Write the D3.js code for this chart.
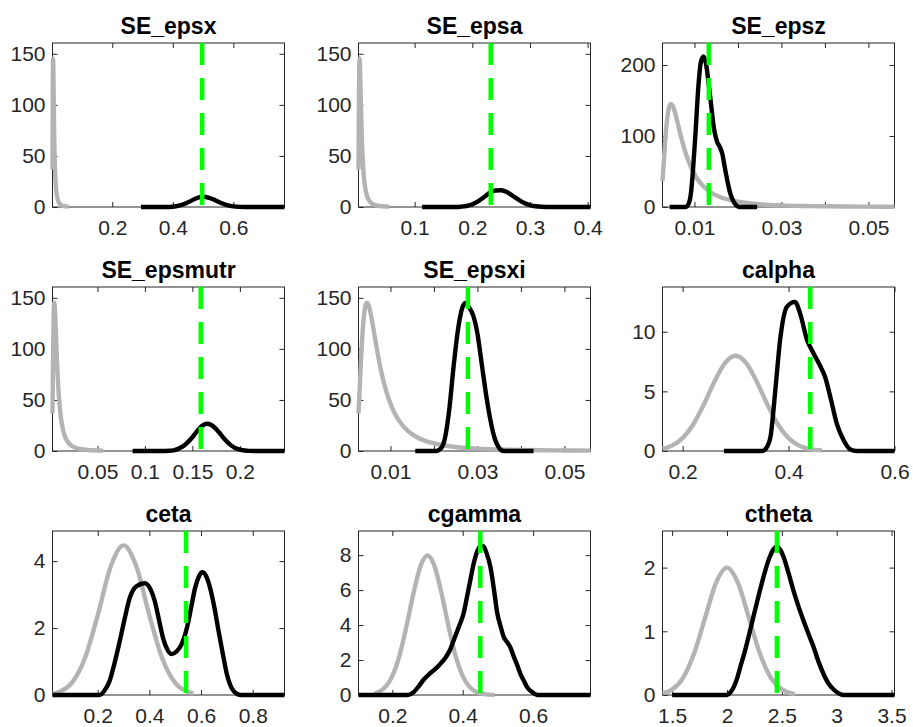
<!DOCTYPE html>
<html><head><meta charset="utf-8">
<script src="https://cdn.jsdelivr.net/npm/d3@7"></script>
<style>body{margin:0;background:#fff} svg{display:block}</style>
</head><body>
<svg id="c" width="913" height="727"></svg>
<script>
// ---------- DATA ----------
const titles = ["SE_epsx","SE_epsa","SE_epsz","SE_epsmutr","SE_epsxi","calpha","ceta","cgamma","ctheta"];
const modes  = [0.497, 0.232, 0.0133, 0.1588, 0.0278, 0.441, 0.542, 0.450, 2.455];
const yMaxes = [160.6, 160.6, 231, 160.6, 160.6, 13.75, 4.9, 9.38, 2.575];
const xDomains = [[0.00265,0.769],[0.00265,0.405],[0.00265,0.056],[0.00265,0.247],[0.00265,0.056],
                  [0.162,0.6],[0.025,0.923],[0.104,0.763],[1.412,3.527]];
// x ticks (marks) and which of them are labelled
const xTicks = [[0.2,0.4,0.6],[0.1,0.2,0.3,0.4],[0.01,0.02,0.03,0.04,0.05],[0.05,0.1,0.15,0.2],
                [0.01,0.02,0.03,0.04,0.05],[0.2,0.4,0.6],[0.2,0.4,0.6,0.8],[0.2,0.4,0.6],[1.5,2,2.5,3,3.5]];
const xLabels = [["0.2","0.4","0.6"],["0.1","0.2","0.3","0.4"],["0.01","","0.03","","0.05"],["0.05","0.1","0.15","0.2"],
                 ["0.01","","0.03","","0.05"],["0.2","0.4","0.6"],["0.2","0.4","0.6","0.8"],["0.2","0.4","0.6"],["1.5","2","2.5","3","3.5"]];
const yTicks = [[0,50,100,150],[0,50,100,150],[0,100,200],[0,50,100,150],[0,50,100,150],[0,5,10],[0,2,4],[0,2,4,6,8],[0,1,2]];

// prior density shared by the five SE_ parameters
const priorSE_x = [0.00265,0.0028,0.0030,0.0032,0.0035,0.0038,0.0040,0.0043,0.0046,0.0050,0.0055,0.0060,0.0070,0.0080,0.0090,0.0100,0.0110,0.0120,0.0140,0.0160,0.0180,0.0200,0.0250,0.0300,0.0350,0.0400,0.0450,0.0500,0.0560];
const priorSE_y = [36.8,50.0,68.6,86.8,110.5,128.0,136.1,143.2,145.3,142.5,133.6,121.8,96.9,75.6,58.9,46.3,36.8,29.5,19.7,13.7,9.9,7.35,3.87,2.28,1.45,0.975,0.688,0.503,0.359];

const priorCalpha_x = [0.162,0.18,0.20,0.22,0.24,0.26,0.28,0.30,0.32,0.34,0.36,0.38,0.40,0.42,0.44,0.4633];
const priorCalpha_y = [0.18,0.45,1.08,2.22,3.90,5.81,7.37,7.98,7.37,5.81,3.90,2.22,1.08,0.45,0.16,0.05];
const priorCeta_x = [0.025,0.05,0.10,0.15,0.20,0.25,0.30,0.35,0.40,0.45,0.50,0.55,0.57];
const priorCeta_y = [0.04,0.09,0.36,1.09,2.38,3.83,4.47,3.83,2.38,1.09,0.36,0.09,0.05];
const priorCgamma_x = [0.15,0.16,0.18,0.20,0.22,0.24,0.26,0.28,0.30,0.32,0.34,0.36,0.38,0.40,0.42,0.44,0.46,0.49];
const priorCgamma_y = [0.08,0.16,0.45,1.08,2.22,3.90,5.81,7.37,7.98,7.37,5.81,3.90,2.22,1.08,0.45,0.16,0.05,0.01];
const priorCtheta_x = [1.412,1.45,1.5,1.6,1.7,1.8,1.9,2.0,2.1,2.2,2.3,2.4,2.5,2.6,2.62];
const priorCtheta_y = [0.03,0.045,0.088,0.27,0.65,1.21,1.76,2.0,1.76,1.21,0.65,0.27,0.088,0.022,0.017];

const postEpsx_x = [0.295,0.38,0.40,0.42,0.44,0.46,0.48,0.50,0.52,0.54,0.56,0.58,0.60,0.62,0.64,0.769];
const postEpsx_y = [0,0,0.3,1.3,3.2,6.0,8.8,10.0,9.0,6.6,3.9,1.8,0.6,0.15,0,0];
const postEpsa_x = [0.113,0.17,0.18,0.19,0.20,0.21,0.22,0.23,0.24,0.25,0.26,0.27,0.28,0.29,0.30,0.31,0.32,0.33,0.34,0.405];
const postEpsa_y = [0,0,0.3,1.0,2.7,5.6,9.5,13.8,16.2,16.4,14.6,11.0,7.2,4.0,1.9,0.7,0.2,0.05,0,0];
const postEpsz_x = [0.0043,0.0080,0.0087,0.0092,0.0097,0.0103,0.0109,0.0115,0.0121,0.0127,0.0133,0.0139,0.0145,0.0152,0.0158,0.0164,0.0170,0.0176,0.0182,0.0188,0.0195,0.0202,0.0244];
const postEpsz_y = [0,0,5,20,55,110,170,205,212,200,172,140,110,92,85,75,55,36,20,10,3,0,0];
const postEpsmutr_x = [0.087,0.12,0.125,0.13,0.135,0.14,0.145,0.15,0.155,0.16,0.165,0.17,0.175,0.18,0.185,0.19,0.195,0.2,0.205,0.21,0.215,0.247];
const postEpsmutr_y = [0,0,0.2,0.7,2.1,4.5,8.5,13.5,19.5,24.5,26.7,25.5,21.5,16,10.5,6,3,1.3,0.5,0.1,0,0];
const postEpsxi_x = [0.0157,0.0205,0.0215,0.0225,0.0235,0.0245,0.0255,0.0265,0.0272,0.0280,0.0290,0.0300,0.0310,0.0320,0.0330,0.0340,0.0350,0.0360,0.0429];
const postEpsxi_y = [0,0,2,12,40,82,118,140,145,141,133,115,85,55,30,12,3,0,0];
const postCalpha_x = [0.278,0.350,0.355,0.360,0.366,0.375,0.384,0.397,0.412,0.422,0.435,0.447,0.460,0.469,0.479,0.491,0.504,0.516,0.529,0.6];
const postCalpha_y = [0,0,0.1,0.4,1.2,5.1,9.3,12.1,12.5,11.5,9.3,8.2,7.1,6.2,4.5,2.3,0.9,0.15,0,0];
const postCeta_x = [0.025,0.207,0.225,0.246,0.265,0.285,0.305,0.324,0.350,0.382,0.405,0.421,0.437,0.453,0.470,0.486,0.505,0.525,0.540,0.551,0.565,0.577,0.592,0.605,0.620,0.635,0.652,0.668,0.685,0.700,0.713,0.726,0.740,0.752,0.923];
const postCeta_y = [0,0,0.12,0.42,0.95,1.6,2.3,2.9,3.25,3.34,3.15,2.8,2.25,1.7,1.35,1.22,1.3,1.52,1.85,2.2,2.75,3.2,3.55,3.67,3.55,3.2,2.6,1.9,1.2,0.62,0.3,0.12,0.03,0,0];
const postCgamma_x = [0.104,0.245,0.260,0.275,0.290,0.305,0.320,0.335,0.350,0.362,0.374,0.389,0.403,0.412,0.422,0.431,0.441,0.450,0.458,0.468,0.479,0.489,0.498,0.508,0.517,0.527,0.536,0.545,0.555,0.564,0.574,0.583,0.593,0.603,0.612,0.763];
const postCgamma_y = [0,0,0.15,0.5,0.9,1.2,1.45,1.75,2.1,2.5,3.1,3.9,4.7,5.6,6.6,7.5,8.2,8.5,8.53,8.1,7.3,6.0,4.7,3.9,3.3,3.0,2.7,2.2,1.7,1.2,0.8,0.45,0.23,0.08,0,0];
const postCtheta_x = [1.5,2.0,2.03,2.06,2.09,2.12,2.165,2.21,2.255,2.30,2.345,2.39,2.425,2.455,2.485,2.515,2.56,2.606,2.65,2.697,2.745,2.79,2.835,2.88,2.925,2.97,3.015,3.06,3.527];
const postCtheta_y = [0,0,0.04,0.12,0.25,0.43,0.70,1.01,1.33,1.64,1.93,2.17,2.29,2.33,2.28,2.17,1.92,1.64,1.40,1.17,0.95,0.75,0.52,0.33,0.18,0.09,0.03,0,0];

const priors = [[priorSE_x,priorSE_y],[priorSE_x,priorSE_y],[priorSE_x,priorSE_y],[priorSE_x,priorSE_y],[priorSE_x,priorSE_y],
                [priorCalpha_x,priorCalpha_y],[priorCeta_x,priorCeta_y],[priorCgamma_x,priorCgamma_y],[priorCtheta_x,priorCtheta_y]];
const posts = [[postEpsx_x,postEpsx_y],[postEpsa_x,postEpsa_y],[postEpsz_x,postEpsz_y],[postEpsmutr_x,postEpsmutr_y],[postEpsxi_x,postEpsxi_y],
               [postCalpha_x,postCalpha_y],[postCeta_x,postCeta_y],[postCgamma_x,postCgamma_y],[postCtheta_x,postCtheta_y]];

// ---------- LAYOUT ----------
const lefts = [52.5, 358.5, 662.5], tops = [43, 287, 531];
const W = 232, H = 164;
const axisColor = "#262626";
const font = "'Liberation Sans', Arial, Helvetica, sans-serif";
const svg = d3.select("#c");

titles.forEach((t, i) => {
  const L = lefts[i % 3], T = tops[Math.floor(i / 3)];
  const x = d3.scaleLinear().domain(xDomains[i]).range([L, L + W]);
  const y = d3.scaleLinear().domain([0, yMaxes[i]]).range([T + H, T]);
  const g = svg.append("g");

  g.append("rect").attr("x", L).attr("y", T).attr("width", W).attr("height", H)
    .attr("fill", "none").attr("stroke", axisColor).attr("stroke-width", 1);

  const styleAxis = sel => {
    sel.select(".domain").remove();
    sel.selectAll(".tick line").attr("stroke", axisColor);
    sel.selectAll(".tick text").attr("fill", axisColor).style("font-family", font).style("font-size", "21px");
  };
  const lab = xLabels[i];
  g.append("g").attr("transform", `translate(0,${T + H})`)
    .call(d3.axisBottom(x).tickValues(xTicks[i]).tickSize(-5).tickPadding(13.5)
      .tickFormat((d, k) => lab[k]))
    .call(styleAxis);
  g.append("g").attr("transform", `translate(0,${T})`)
    .call(d3.axisTop(x).tickValues(xTicks[i]).tickSize(-5).tickFormat(""))
    .call(styleAxis);
  g.append("g").attr("transform", `translate(${L},0)`)
    .call(d3.axisLeft(y).tickValues(yTicks[i]).tickSize(-5).tickPadding(7).tickFormat(d => String(d)))
    .call(styleAxis);
  g.append("g").attr("transform", `translate(${L + W},0)`)
    .call(d3.axisRight(y).tickValues(yTicks[i]).tickSize(-5).tickFormat(""))
    .call(styleAxis);

  const line = d3.line().x(d => x(d[0])).y(d => y(d[1])).curve(d3.curveMonotoneX);
  const pr = d3.zip(priors[i][0], priors[i][1]);
  const po = d3.zip(posts[i][0], posts[i][1]);
  g.append("path").attr("d", line(pr)).attr("fill", "none").attr("stroke", "#b3b3b3")
    .attr("stroke-width", 4.4).attr("stroke-linejoin", "round");
  g.append("path").attr("d", line(po)).attr("fill", "none").attr("stroke", "#000")
    .attr("stroke-width", 4.4).attr("stroke-linejoin", "round");
  g.append("line").attr("x1", x(modes[i])).attr("x2", x(modes[i]))
    .attr("y1", y(yMaxes[i])).attr("y2", y(0))
    .attr("stroke", "#00ff00").attr("stroke-width", 4.5).attr("stroke-dasharray", "22,13");

  g.append("text").attr("x", L + W / 2).attr("y", T - 9).attr("text-anchor", "middle")
    .style("font-family", font).style("font-size", "23px").style("font-weight", "bold")
    .attr("fill", "#000").text(t);
});
</script>
</body></html>
